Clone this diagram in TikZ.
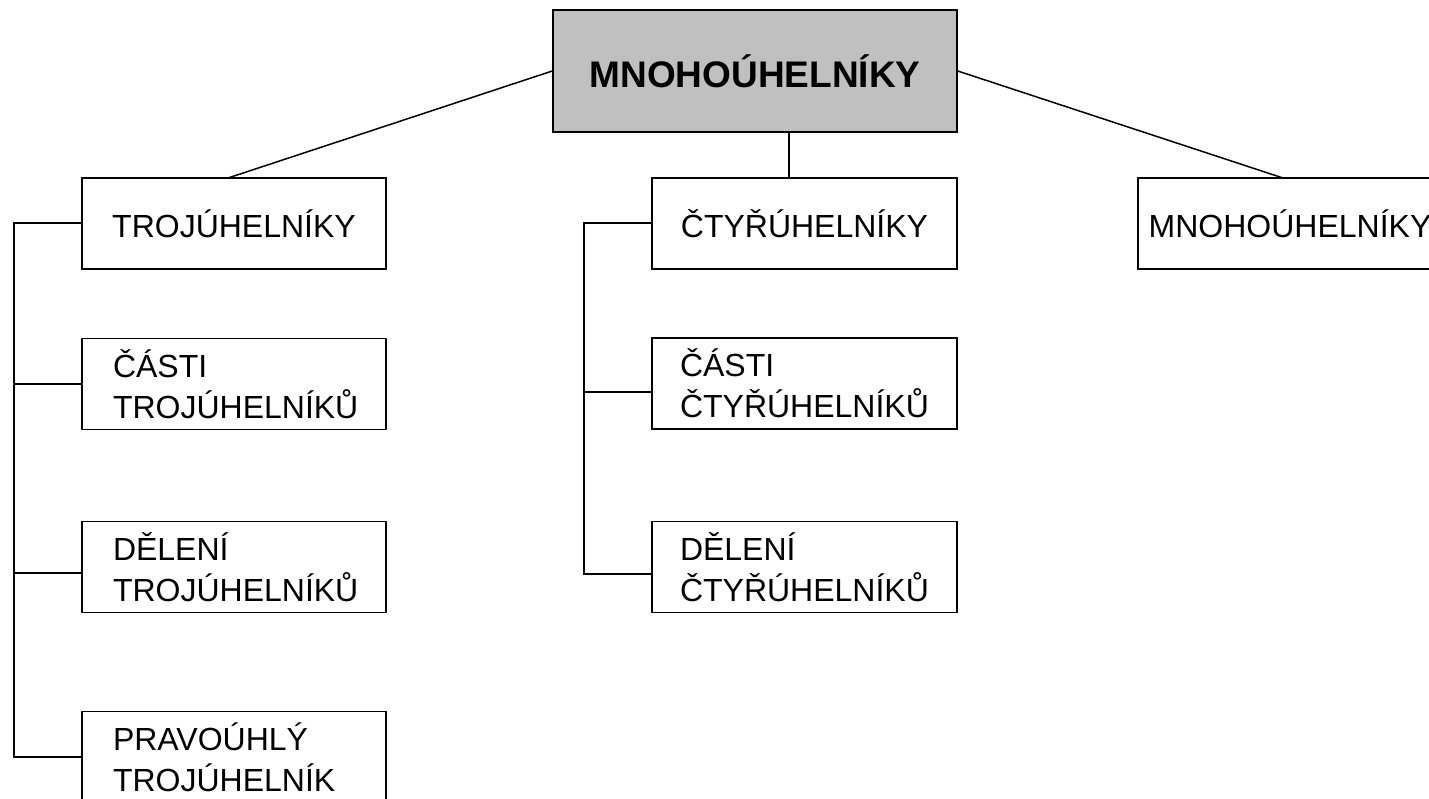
\documentclass[tikz,border=0pt]{standalone}
\usepackage{fontspec}
\setmainfont{Liberation Sans}
\definecolor{boxgray}{HTML}{C0C0C0}
\tikzset{
  lvl/.style={draw=black, line width=1.5pt, fill=white, rectangle, inner sep=0pt,
    minimum width=304pt, minimum height=91pt, align=center,
    font=\fontsize{32}{41}\selectfont},
  lvltwo/.style={lvl, align=left, inner xsep=31pt, text width=242pt},
  lvltwom/.style={lvl, align=left, inner xsep=28pt, text width=249pt, minimum width=305pt},
  rootbox/.style={draw=black, line width=1.5pt, fill=boxgray, rectangle, inner sep=0pt,
    minimum width=404pt, minimum height=122pt,
    font=\fontsize{37}{40}\selectfont\bfseries},
  conn/.style={line width=1.5pt, draw=black}
}
\begin{document}
\begin{tikzpicture}[x=1pt, y=-1pt]
\useasboundingbox (0,0) rectangle (1429,798);
\clip (0,0) rectangle (1429,798);
\fill[white] (0,0) rectangle (1429,798);

\coordinate (lt) at (14,223);
\coordinate (lc) at (14,384);
\coordinate (ld) at (14,573);
\coordinate (lp) at (14,757);
\coordinate (mt) at (584,223);
\coordinate (mc) at (584,392);
\coordinate (md) at (584,574);
\coordinate (vm) at (789,178);
\coordinate (ta) at (228,178);
\coordinate (ma) at (1283,178);

\node[rootbox] (root) at (755,71) {MNOHOÚHELNÍKY};

\node[lvl] (troj) at (234,223.5) {TROJÚHELNÍKY};
\node[lvltwo] (castiT) at (234,384) {ČÁSTI\\TROJÚHELNÍKŮ};
\node[lvltwo] (deleniT) at (234,567) {DĚLENÍ\\TROJÚHELNÍKŮ};
\node[lvltwo] (pravo) at (234,757) {PRAVOÚHLÝ\\TROJÚHELNÍK};

\node[lvl, minimum width=305pt] (ctyr) at (804.5,223.5) {ČTYŘÚHELNÍKY};
\node[lvltwom] (castiC) at (804.5,383.5) {ČÁSTI\\ČTYŘÚHELNÍKŮ};
\node[lvltwom] (deleniC) at (804.5,567) {DĚLENÍ\\ČTYŘÚHELNÍKŮ};

\node[lvl] (mnoho) at (1290,223.5) {MNOHOÚHELNÍKY};

% root to children
\draw[conn] (root.west) -- (ta);
\draw[conn] (root.east) -- (ma);
\draw[conn] (vm |- root.south) -- (vm);

% left bus
\draw[conn] (lt -| troj.west) -- (lt) -- (lp) -- (lp -| pravo.west);
\draw[conn] (lc) -- (lc -| castiT.west);
\draw[conn] (ld) -- (ld -| deleniT.west);

% middle bus
\draw[conn] (mt -| ctyr.west) -- (mt) -- (md) -- (md -| deleniC.west);
\draw[conn] (mc) -- (mc -| castiC.west);
\end{tikzpicture}
\end{document}
